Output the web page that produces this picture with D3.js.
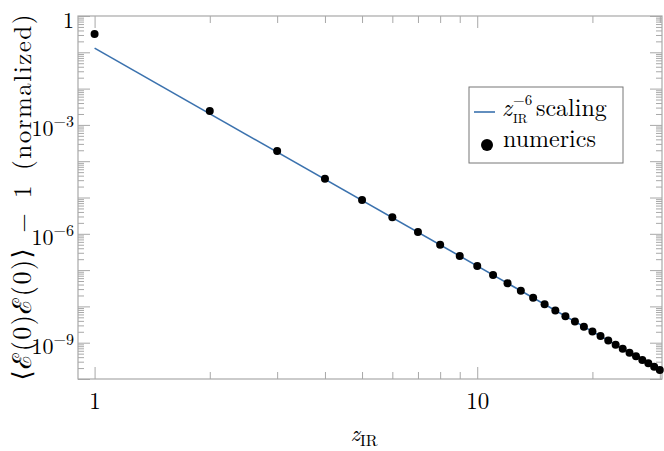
<!DOCTYPE html>
<html>
<head>
<meta charset="utf-8">
<script src="https://cdn.jsdelivr.net/npm/d3@7"></script>
<style>
  body { margin: 0; background: #fff; }
  svg text { font-family: "Latin Modern Roman", "CMU Serif", "Liberation Serif", "DejaVu Serif", serif; fill: #000; }
</style>
</head>
<body>
<div id="chart"></div>
<script>
// z_IR values of the numerics
const zValues = [1, 2, 3, 4, 5, 6, 7, 8, 9, 10, 11, 12, 13, 14, 15, 16, 17, 18, 19, 20,
                 21, 22, 23, 24, 25, 26, 27, 28, 29, 30];
// <E(0)E(0)> - 1 (normalized)
const numericValues = [0.32, 2.4e-3, 1.9e-4, 3.3e-5, 8.5e-6, 2.85e-6, 1.12e-6, 5.0e-7, 2.46e-7, 1.3e-7,
                       7.34e-8, 4.35e-8, 2.69e-8, 1.73e-8, 1.14e-8, 7.75e-9, 5.39e-9, 3.82e-9, 2.76e-9, 2.03e-9,
                       1.52e-9, 1.15e-9, 8.78e-10, 6.8e-10, 5.32e-10, 4.21e-10, 3.36e-10, 2.7e-10, 2.19e-10, 1.78e-10];
// end points of the z^-6 scaling line (straight in log-log)
const fitZ = [1, 30];
const fitValues = [0.13, 1.78e-10];

const xTickValues = [1, 2, 3, 4, 5, 6, 7, 8, 9, 10, 20, 30];
const xLabelTicks = [1, 10];
const yLabelExponents = [0, -3, -6, -9];

const width = 664, height = 451;
const margin = { left: 78, right: 2, top: 16, bottom: 72 };
const frameColor = "#a8a8a8";
const lineColor = "#3b72ae";

const x = d3.scaleLog()
    .domain([0.905, 30.4])
    .range([margin.left, width - margin.right]);
const y = d3.scaleLog()
    .domain([1e-10, 1])
    .range([height - margin.bottom, margin.top]);

const svg = d3.select("#chart").append("svg")
    .attr("width", width)
    .attr("height", height);

// y ticks: decades and the 2..9 minors
const yDecades = d3.range(-10, 1).map(e => Math.pow(10, e));
const yMinor = [];
d3.range(-10, 0).forEach(e => {
    for (let k = 2; k <= 9; k++) yMinor.push(k * Math.pow(10, e));
});
const xMajor = [1, 10];
const xMinor = xTickValues.filter(v => !xMajor.includes(v));

function styleAxis(g) {
    g.select(".domain").remove();
    g.selectAll(".tick line").attr("stroke", frameColor).attr("stroke-width", 1);
}

const x0 = margin.left, x1 = width - margin.right;
const y0 = height - margin.bottom, y1 = margin.top;

// left + right ticks
svg.append("g").attr("transform", `translate(${x0},0)`)
    .call(d3.axisLeft(y).tickValues(yMinor).tickSize(-6).tickFormat("")).call(styleAxis);
svg.append("g").attr("transform", `translate(${x0},0)`)
    .call(d3.axisLeft(y).tickValues(yDecades).tickSize(-12).tickFormat("")).call(styleAxis);
svg.append("g").attr("transform", `translate(${x1},0)`)
    .call(d3.axisRight(y).tickValues(yMinor).tickSize(-6).tickFormat("")).call(styleAxis);
svg.append("g").attr("transform", `translate(${x1},0)`)
    .call(d3.axisRight(y).tickValues(yDecades).tickSize(-12).tickFormat("")).call(styleAxis);

// bottom + top ticks
svg.append("g").attr("transform", `translate(0,${y0})`)
    .call(d3.axisBottom(x).tickValues(xMinor).tickSize(-7).tickFormat("")).call(styleAxis);
svg.append("g").attr("transform", `translate(0,${y0})`)
    .call(d3.axisBottom(x).tickValues(xMajor).tickSize(-12).tickFormat("")).call(styleAxis);
svg.append("g").attr("transform", `translate(0,${y1})`)
    .call(d3.axisTop(x).tickValues(xMinor).tickSize(-7).tickFormat("")).call(styleAxis);
svg.append("g").attr("transform", `translate(0,${y1})`)
    .call(d3.axisTop(x).tickValues(xMajor).tickSize(-12).tickFormat("")).call(styleAxis);

// frame
svg.append("rect")
    .attr("x", x0).attr("y", y1)
    .attr("width", x1 - x0).attr("height", y0 - y1)
    .attr("fill", "none")
    .attr("stroke", frameColor)
    .attr("stroke-width", 1.2);

// tick labels
const xLab = svg.append("g")
    .attr("transform", `translate(0,${y0})`)
    .call(d3.axisBottom(x).tickValues(xLabelTicks).tickSize(0).tickPadding(14).tickFormat(d3.format("d")));
xLab.select(".domain").remove();
xLab.selectAll("text").style("font-size", "23px").attr("fill", "#000");

const yLab = svg.append("g").attr("transform", `translate(${x0 - 4},0)`);
yLabelExponents.forEach(e => {
    const t = yLab.append("text")
        .attr("x", 0)
        .attr("y", y(Math.pow(10, e)) + 11.5)
        .attr("text-anchor", "end")
        .style("font-size", "22px");
    if (e === 0) {
        t.text("1");
    } else {
        t.append("tspan").text("10");
        t.append("tspan").attr("dy", -9).style("font-size", "16px").text("\u2212" + (-e));
    }
});

// axis titles
const xTitle = svg.append("text")
    .attr("x", (x0 + x1) / 2 - 6)
    .attr("y", 441)
    .attr("text-anchor", "middle")
    .style("font-size", "23px");
xTitle.append("tspan").style("font-style", "italic").text("z");
xTitle.append("tspan").attr("dy", "0.3em").style("font-size", "16px").text("IR");

const yTitle = svg.append("text")
    .attr("transform", `translate(31,${(y0 + y1) / 2}) rotate(-90)`)
    .attr("text-anchor", "middle")
    .attr("textLength", 366)
    .attr("lengthAdjust", "spacing")
    .style("font-size", "25px");
yTitle.append("tspan").style("font-size", "26px").text("\u27E8\u2130(0)\u2130(0)\u27E9");
yTitle.append("tspan").text("\u2002\u2212\u20021\u2002(normalized)");

// scaling line
const fitData = fitZ.map((z, i) => [z, fitValues[i]]);
svg.append("path")
    .datum(fitData)
    .attr("fill", "none")
    .attr("stroke", lineColor)
    .attr("stroke-width", 1.6)
    .attr("d", d3.line().x(d => x(d[0])).y(d => y(d[1])));

// numerics
svg.append("g")
    .selectAll("circle")
    .data(zValues.map((z, i) => [z, numericValues[i]]))
    .join("circle")
    .attr("cx", d => x(d[0]))
    .attr("cy", d => y(d[1]))
    .attr("r", 4)
    .attr("fill", "#000");

// legend
const legend = svg.append("g").attr("transform", "translate(469,87)");
legend.append("rect")
    .attr("width", 154).attr("height", 76)
    .attr("fill", "#fff")
    .attr("stroke", "#777")
    .attr("stroke-width", 1);
legend.append("line")
    .attr("x1", 5).attr("x2", 26)
    .attr("y1", 25).attr("y2", 25)
    .attr("stroke", lineColor)
    .attr("stroke-width", 1.6);
legend.append("text")
    .attr("x", 33).attr("y", 29)
    .style("font-size", "24px")
    .style("font-style", "italic")
    .text("z");
legend.append("text")
    .attr("x", 44).attr("y", 18)
    .style("font-size", "15px")
    .text("\u22126");
legend.append("text")
    .attr("x", 44).attr("y", 36)
    .style("font-size", "13px")
    .text("IR");
legend.append("text")
    .attr("x", 67).attr("y", 29)
    .style("font-size", "24px")
    .text("scaling");
legend.append("circle")
    .attr("cx", 18).attr("cy", 58)
    .attr("r", 6)
    .attr("fill", "#000");
legend.append("text")
    .attr("x", 34).attr("y", 60)
    .style("font-size", "24px")
    .text("numerics");
</script>
</body>
</html>
